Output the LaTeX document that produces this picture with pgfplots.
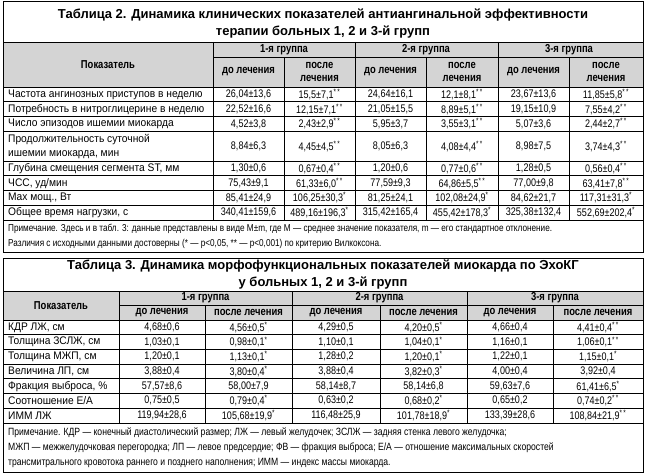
\documentclass[border=0pt]{standalone}
\usepackage{fontspec}
\setmainfont{Liberation Sans}
\newfontfamily\cond[FakeStretch=0.82]{Liberation Sans}
\newfontfamily\condl[FakeStretch=0.93]{Liberation Sans}
\usepackage{pgfplots}
\pgfplotsset{compat=1.18}
\definecolor{hdrgray}{RGB}{212,212,212}

\newcommand\st{\textsuperscript{*}}
\newcommand\sst{\textsuperscript{*\,*}}

% table 2: column centres 248.5 319.5 390.5 462 533.5 606
\newcommand\rowB[8]{%
  \node[lbl] at (8,#1) {#2};
  \node[val] at (248.5,#1) {#3};
  \node[val] at (319.5,#1) {#4};
  \node[val] at (390.5,#1) {#5};
  \node[val] at (462,#1) {#6};
  \node[val] at (533.5,#1) {#7};
  \node[val] at (606,#1) {#8};}
% table 3: column centres 162 248.5 336 423.5 510 598
\newcommand\rowC[8]{%
  \node[lbl] at (8,#1) {#2};
  \node[val] at (162,#1) {#3};
  \node[val] at (248.5,#1) {#4};
  \node[val] at (336,#1) {#5};
  \node[val] at (423.5,#1) {#6};
  \node[val] at (510,#1) {#7};
  \node[val] at (598,#1) {#8};}

\begin{document}
\begin{tikzpicture}[
  lbl/.style={anchor=west, inner sep=0pt, font=\condl\fontsize{11}{14}\selectfont, align=left},
  val/.style={anchor=center, inner sep=0pt, font=\cond\fontsize{11}{13}\selectfont},
  hdr/.style={anchor=center, inner sep=0pt, font=\cond\bfseries\fontsize{11.5}{13}\selectfont, align=center},
  ttl/.style={anchor=center, inner sep=0pt, font=\bfseries\fontsize{13}{17}\selectfont, align=center},
  note/.style={anchor=west, inner sep=0pt, font=\cond\fontsize{10}{15}\selectfont, align=left},
  ln/.style={line width=0.8pt, black}]
\begin{axis}[
  width=645pt, height=473pt, scale only axis,
  xmin=0, xmax=645, ymin=0, ymax=473, y dir=reverse,
  hide axis, clip=false]
\path (0,0) rectangle (645,473);

% ---------------- Table 2 ----------------
\fill[hdrgray] (3,42) rectangle (643,87);
\draw[ln] (3,1) rectangle (643,252);
\draw[ln] (3,42) -- (643,42);
\draw[ln] (213,57) -- (643,57);
\pgfplotsinvokeforeach{87,101.8,116.6,131.4,161,175.8,190.6,205.4,220.2}{
  \draw[ln] (3,#1) -- (643,#1);}
\pgfplotsinvokeforeach{213,355,498}{
  \draw[ln] (#1,42) -- (#1,220.2);}
\pgfplotsinvokeforeach{284,426,569}{
  \draw[ln] (#1,57) -- (#1,220.2);}

\node[ttl] at (323,23.5) {Таблица 2. Динамика клинических показателей антиангинальной эффективности\\терапии больных 1, 2 и 3-й групп};
\node[hdr] at (108,65) {Показатель};
\node[hdr] at (284,49.5) {1-я группа};
\node[hdr] at (426,49.5) {2-я группа};
\node[hdr] at (569,49.5) {3-я группа};
\pgfplotsinvokeforeach{248.5,390.5,533.5}{
  \node[hdr] at (#1,72) {до лечения};}
\pgfplotsinvokeforeach{319.5,462,606}{
  \node[hdr] at (#1,72) {после\\лечения};}

\rowB{94.4}{Частота ангинозных приступов в неделю}{26,04±13,6}{15,5±7,1\sst}{24,64±16,1}{12,1±8,1\sst}{23,67±13,6}{11,85±5,8\sst}
\rowB{109.2}{Потребность в нитроглицерине в неделю}{22,52±16,6}{12,15±7,1\sst}{21,05±15,5}{8,89±5,1\sst}{19,15±10,9}{7,55±4,2\sst}
\rowB{124}{Число эпизодов ишемии миокарда}{4,52±3,8}{2,43±2,9\sst}{5,95±3,7}{3,55±3,1\sst}{5,07±3,6}{2,44±2,7\sst}
\rowB{146.2}{Продолжительность суточной\\ишемии миокарда, мин}{8,84±6,3}{4,45±4,5\sst}{8,05±6,3}{4,08±4,4\sst}{8,98±7,5}{3,74±4,3\sst}
\rowB{168.4}{Глубина смещения сегмента ST, мм}{1,30±0,6}{0,67±0,4\sst}{1,20±0,6}{0,77±0,6\sst}{1,28±0,5}{0,56±0,4\sst}
\rowB{183.2}{ЧСС, уд/мин}{75,43±9,1}{61,33±6,0\sst}{77,59±9,3}{64,86±5,5\sst}{77,00±9,8}{63,41±7,8\sst}
\rowB{198}{Max мощ., Вт}{85,41±24,9}{106,25±30,3\st}{81,25±24,1}{102,08±24,9\st}{84,62±21,7}{117,31±31,3\st}
\rowB{212.8}{Общее время нагрузки, с}{340,41±159,6}{489,16±196,3\st}{315,42±165,4}{455,42±178,3\st}{325,38±132,4}{552,69±202,4\st}

\node[note] at (8,236) {Примечание. Здесь и в табл. 3: данные представлены в виде M±m, где M — среднее значение показателя, m — его стандартное отклонение.\\Различия с исходными данными достоверны (* — p<0,05, ** — p<0,001) по критерию Вилкоксона.};

% ---------------- Table 3 ----------------
\fill[hdrgray] (3,291) rectangle (643,320);
\draw[ln] (3,258) rectangle (643,472);
\draw[ln] (3,291) -- (643,291);
\draw[ln] (119,305) -- (643,305);
\pgfplotsinvokeforeach{320,334.7,349.4,364.1,378.8,393.5,408.2,423}{
  \draw[ln] (3,#1) -- (643,#1);}
\pgfplotsinvokeforeach{119,292,467}{
  \draw[ln] (#1,291) -- (#1,423);}
\pgfplotsinvokeforeach{205,380,553}{
  \draw[ln] (#1,305) -- (#1,423);}

\node[ttl] at (323,275) {Таблица 3. Динамика морфофункциональных показателей миокарда по ЭхоКГ\\у больных 1, 2 и 3-й групп};
\node[hdr] at (61,305.5) {Показатель};
\node[hdr] at (205.5,298) {1-я группа};
\node[hdr] at (379.5,298) {2-я группа};
\node[hdr] at (555,298) {3-я группа};
\pgfplotsinvokeforeach{162,336,510}{
  \node[hdr] at (#1,312.5) {до лечения};}
\pgfplotsinvokeforeach{248.5,423.5,598}{
  \node[hdr] at (#1,312.5) {после лечения};}

\rowC{327.35}{КДР ЛЖ, см}{4,68±0,6}{4,56±0,5\st}{4,29±0,5}{4,20±0,5\st}{4,66±0,4}{4,41±0,4\sst}
\rowC{342.05}{Толщина ЗСЛЖ, см}{1,03±0,1}{0,98±0,1\st}{1,10±0,1}{1,04±0,1\st}{1,16±0,1}{1,06±0,1\sst}
\rowC{356.75}{Толщина МЖП, см}{1,20±0,1}{1,13±0,1\st}{1,28±0,2}{1,20±0,1\st}{1,22±0,1}{1,15±0,1\st}
\rowC{371.45}{Величина ЛП, см}{3,88±0,4}{3,80±0,4\st}{3,88±0,4}{3,82±0,3\st}{4,00±0,4}{3,92±0,4}
\rowC{386.15}{Фракция выброса, \%}{57,57±8,6}{58,00±7,9}{58,14±8,7}{58,14±6,8}{59,63±7,6}{61,41±6,5\st}
\rowC{400.85}{Соотношение Е/А}{0,75±0,5}{0,79±0,4\st}{0,63±0,2}{0,68±0,2\st}{0,65±0,2}{0,74±0,2\sst}
\rowC{415.55}{ИММ ЛЖ}{119,94±28,6}{105,68±19,9\st}{116,48±25,9}{101,78±18,9\st}{133,39±28,6}{108,84±21,9\sst}

\node[note, font=\cond\fontsize{10.5}{15}\selectfont] at (8,447.5) {Примечание. КДР — конечный диастолический размер; ЛЖ — левый желудочек; ЗСЛЖ — задняя стенка левого желудочка;\\МЖП — межжелудочковая перегородка; ЛП — левое предсердие; ФВ — фракция выброса; Е/А — отношение максимальных скоростей\\трансмитрального кровотока раннего и позднего наполнения; ИММ — индекс массы миокарда.};
\end{axis}
\end{tikzpicture}
\end{document}
